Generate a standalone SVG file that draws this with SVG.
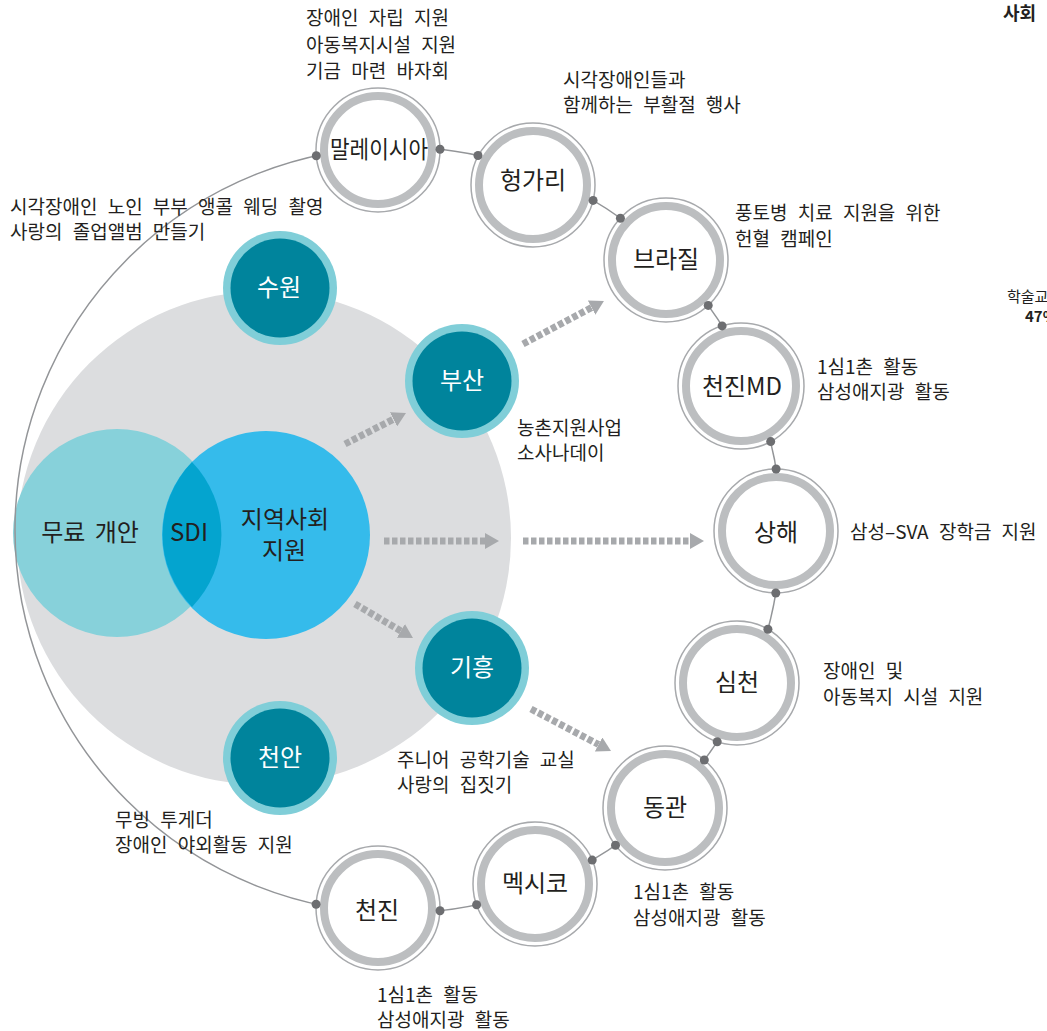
<svg xmlns="http://www.w3.org/2000/svg" width="1047" height="1031" viewBox="0 0 1047 1031">
<style>
text{font-family:"Noto Sans CJK KR","Noto Sans",sans-serif;fill:#231f20}
.lbl{font-size:19px;word-spacing:6px}
.nt{font-size:24px;text-anchor:middle}
.wt{font-size:24px;text-anchor:middle;fill:#ffffff}
.vt{font-size:24px;text-anchor:middle}
.o{fill:#ffffff;stroke:#a7a9ac;stroke-width:1.5}
.t{fill:none;stroke:#bcbec0;stroke-width:8}
.tl{fill:#80ced8}
.td{fill:#00849c}
.dot{fill:#6d6e71}
.arr{fill:none;stroke:#a7a9ac;stroke-width:7;stroke-dasharray:5.5 2.5;marker-end:url(#ah)}
</style>
<defs>
<marker id="ah" markerUnits="userSpaceOnUse" viewBox="0 0 14 16" refX="0" refY="8" markerWidth="14" markerHeight="16" orient="auto">
<path d="M0,0 L14,8 L0,16 Z" fill="#a7a9ac"/>
</marker>
</defs>
<rect width="1047" height="1031" fill="#ffffff"/>
<circle cx="264" cy="538" r="247" fill="#dcdddf"/>
<g id="venn">
<circle cx="117" cy="533" r="104" fill="#87d1da"/>
<circle cx="266" cy="535" r="104" fill="#35bbeb"/>
<path d="M192,462 A104,104 0 0 1 192,607 A104,104 0 0 1 192,462 Z" fill="#04a4cf"/>
<text class="vt" x="90" y="541" word-spacing="4">무료 개안</text>
<text class="vt" x="189" y="541">SDI</text>
<text class="vt" x="285" y="528">지역사회</text>
<text class="vt" x="284" y="559">지원</text>
</g>
<g id="connectors">
<circle cx="398" cy="530" r="383" fill="none" stroke="#939598" stroke-width="1.5"/>
<path class="arr" d="M345,444 L393.5,419.3"/>
<path class="arr" d="M384,541 L485,541"/>
<path class="arr" d="M523,344 L591.6,307.6"/>
<path class="arr" d="M523,541 L690,541"/>
<path class="arr" d="M355,604 L400.9,630.9"/>
<path class="arr" d="M531,709 L598.6,744.5"/>
</g>
<g id="suwon"><circle class="tl" cx="280" cy="288" r="57"/><circle class="td" cx="280" cy="288" r="49.5"/><text class="wt" x="279" y="296">수원</text></g>
<g id="busan"><circle class="tl" cx="462" cy="381" r="57"/><circle class="td" cx="462" cy="381" r="49.5"/><text class="wt" x="462" y="389">부산</text></g>
<g id="giheung"><circle class="tl" cx="472" cy="668" r="57"/><circle class="td" cx="472" cy="668" r="49.5"/><text class="wt" x="472" y="676">기흥</text></g>
<g id="cheonan"><circle class="tl" cx="280" cy="758" r="57"/><circle class="td" cx="280" cy="758" r="49.5"/><text class="wt" x="280" y="766">천안</text></g>
<g id="malaysia"><circle class="o" cx="378" cy="150" r="62"/><circle class="t" cx="378" cy="150" r="54"/><text class="nt" x="379" y="158" textLength="98" lengthAdjust="spacingAndGlyphs">말레이시아</text></g>
<g id="hungary"><circle class="o" cx="533" cy="185" r="62"/><circle class="t" cx="533" cy="185" r="54"/><text class="nt" x="533" y="189">헝가리</text></g>
<g id="brazil"><circle class="o" cx="666" cy="260" r="62"/><circle class="t" cx="666" cy="260" r="54"/><text class="nt" x="666" y="268">브라질</text></g>
<g id="tianjin-md"><circle class="o" cx="741" cy="386" r="63"/><circle class="t" cx="741" cy="386" r="55"/><text class="nt" x="742" y="395">천진MD</text></g>
<g id="shanghai"><circle class="o" cx="776" cy="531" r="62"/><circle class="t" cx="776" cy="531" r="54"/><text class="nt" x="776" y="541">상해</text></g>
<g id="shenzhen"><circle class="o" cx="737" cy="683" r="62"/><circle class="t" cx="737" cy="683" r="54"/><text class="nt" x="737" y="691">심천</text></g>
<g id="dongguan"><circle class="o" cx="665" cy="808" r="62"/><circle class="t" cx="665" cy="808" r="54"/><text class="nt" x="665" y="816">동관</text></g>
<g id="mexico"><circle class="o" cx="535" cy="884" r="62"/><circle class="t" cx="535" cy="884" r="54"/><text class="nt" x="535" y="892">멕시코</text></g>
<g id="tianjin"><circle class="o" cx="378" cy="908" r="62"/><circle class="t" cx="378" cy="908" r="54"/><text class="nt" x="377" y="919">천진</text></g>
<g id="dots">
<circle class="dot" cx="316.3" cy="155.8" r="4.5"/><circle class="dot" cx="440" cy="149.3" r="4.5"/>
<circle class="dot" cx="478" cy="155.5" r="4.5"/><circle class="dot" cx="593.1" cy="200.4" r="4.5"/>
<circle class="dot" cx="620.4" cy="218.2" r="4.5"/><circle class="dot" cx="708.2" cy="305.4" r="4.5"/>
<circle class="dot" cx="722.1" cy="325.9" r="4.5"/><circle class="dot" cx="770.7" cy="441.6" r="4.5"/>
<circle class="dot" cx="776.1" cy="469" r="4.5"/><circle class="dot" cx="775.8" cy="593" r="4.5"/>
<circle class="dot" cx="767.9" cy="629.3" r="4.5"/><circle class="dot" cx="717.2" cy="741.7" r="4.5"/>
<circle class="dot" cx="704.3" cy="760" r="4.5"/><circle class="dot" cx="615.5" cy="845.3" r="4.5"/>
<circle class="dot" cx="592.2" cy="860.1" r="4.5"/><circle class="dot" cx="476.6" cy="904.8" r="4.5"/>
<circle class="dot" cx="440" cy="910.7" r="4.5"/><circle class="dot" cx="316.1" cy="904.2" r="4.5"/>
</g>
<g id="labels">
<text class="lbl" x="306" y="25">장애인 자립 지원</text>
<text class="lbl" x="306" y="52">아동복지시설 지원</text>
<text class="lbl" x="306" y="78">기금 마련 바자회</text>
<text class="lbl" x="563" y="87">시각장애인들과</text>
<text class="lbl" x="563" y="112">함께하는 부활절 행사</text>
<text class="lbl" x="10" y="214">시각장애인 노인 부부 앵콜 웨딩 촬영</text>
<text class="lbl" x="10" y="239">사랑의 졸업앨범 만들기</text>
<text class="lbl" x="735" y="220">풍토병 치료 지원을 위한</text>
<text class="lbl" x="735" y="246">헌혈 캠페인</text>
<text class="lbl" x="817" y="374">1심1촌 활동</text>
<text class="lbl" x="817" y="399">삼성애지광 활동</text>
<text class="lbl" x="517" y="435">농촌지원사업</text>
<text class="lbl" x="517" y="460">소사나데이</text>
<text class="lbl" x="850" y="539" word-spacing="9">삼성–SVA 장학금 지원</text>
<text class="lbl" x="823" y="678">장애인 및</text>
<text class="lbl" x="823" y="704">아동복지 시설 지원</text>
<text class="lbl" x="397" y="767">주니어 공학기술 교실</text>
<text class="lbl" x="397" y="792">사랑의 집짓기</text>
<text class="lbl" x="115" y="827">무빙 투게더</text>
<text class="lbl" x="115" y="852">장애인 야외활동 지원</text>
<text class="lbl" x="633" y="899">1심1촌 활동</text>
<text class="lbl" x="633" y="925">삼성애지광 활동</text>
<text class="lbl" x="377" y="1002">1심1촌 활동</text>
<text class="lbl" x="377" y="1027">삼성애지광 활동</text>
<text x="1003" y="20" style="font-size:18px;font-weight:bold">사회</text>
<text x="1007" y="302" style="font-size:15px">학술교류</text>
<text x="1025" y="322" style="font-size:15px;font-weight:bold">47%</text>
</g>
</svg>
